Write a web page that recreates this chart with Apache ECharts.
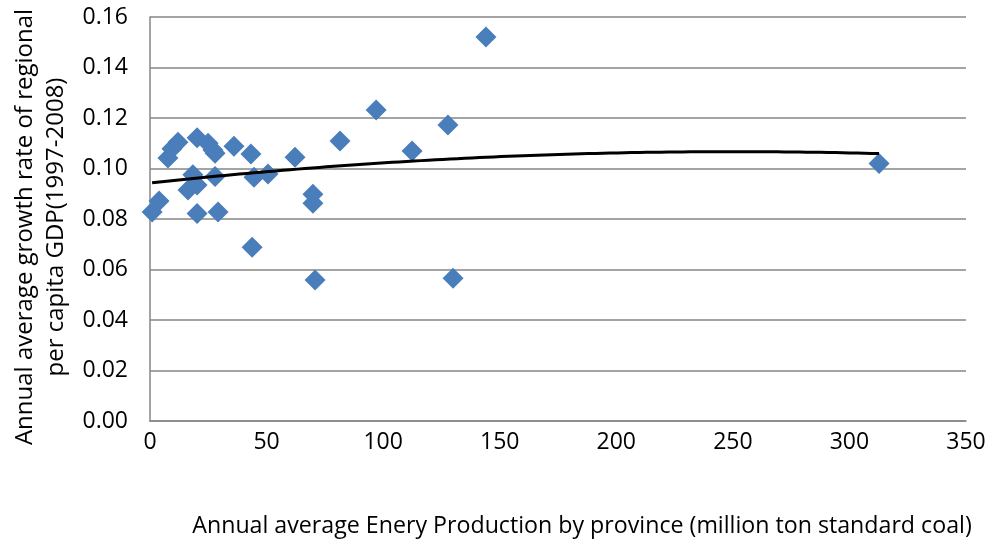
<!DOCTYPE html>
<html>
<head>
<meta charset="utf-8">
<script src="https://cdn.jsdelivr.net/npm/echarts@6/dist/echarts.min.js"></script>
<style>html,body{margin:0;padding:0;background:#fff}#c{width:992px;height:546px}</style>
</head>
<body>
<div id="c"></div>
<script>
// Energy production (million ton standard coal)
var energyX = [0.9, 3.9, 7.7, 9.4, 12.0, 16.3, 18.4, 20.2, 20.2, 20.2, 24.9, 27.0, 27.9, 27.9, 29.2, 36.0, 43.3, 43.8, 44.6, 50.6, 62.2, 69.9, 69.9, 70.8, 81.5, 97.0, 112.4, 127.8, 130.0, 144.1, 312.7];
// Annual average growth rate of per capita GDP
var growthY = [0.0828, 0.0871, 0.1042, 0.1078, 0.1104, 0.0915, 0.0975, 0.1122, 0.0935, 0.0822, 0.1100, 0.1073, 0.1060, 0.0968, 0.0828, 0.1088, 0.1057, 0.0688, 0.0965, 0.0978, 0.1045, 0.0898, 0.0862, 0.0558, 0.1109, 0.1232, 0.1069, 0.1172, 0.0565, 0.1521, 0.1020];
var xTicks = [0, 50, 100, 150, 200, 250, 300, 350];
var yTicks = [0, 0.02, 0.04, 0.06, 0.08, 0.10, 0.12, 0.14, 0.16];

// Polynomial (order 2) least-squares trendline from the data
function quadFit(xs, ys) {
  var n = xs.length, s = [0,0,0,0,0], t = [0,0,0];
  for (var i = 0; i < n; i++) {
    var x = xs[i], y = ys[i], p = 1;
    for (var k = 0; k < 5; k++) { s[k] += p; if (k < 3) t[k] += p * y; p *= x; }
  }
  var M = [[s[0], s[1], s[2], t[0]], [s[1], s[2], s[3], t[1]], [s[2], s[3], s[4], t[2]]];
  for (var c = 0; c < 3; c++) {
    for (var r = c + 1; r < 3; r++) {
      var f = M[r][c] / M[c][c];
      for (var j = c; j < 4; j++) M[r][j] -= f * M[c][j];
    }
  }
  var coef = [0,0,0];
  for (var r2 = 2; r2 >= 0; r2--) {
    var v = M[r2][3];
    for (var j2 = r2 + 1; j2 < 3; j2++) v -= M[r2][j2] * coef[j2];
    coef[r2] = v / M[r2][r2];
  }
  return coef;
}
var coef = quadFit(energyX, growthY);
var xMinData = Math.min.apply(null, energyX), xMaxData = Math.max.apply(null, energyX);
var trend = [];
for (var i = 0; i <= 100; i++) {
  var x = xMinData + (xMaxData - xMinData) * i / 100;
  trend.push([x, coef[0] + coef[1] * x + coef[2] * x * x]);
}
var pts = energyX.map(function (x, i) { return [x, growthY[i]]; });

var font = '"Open Sans", "Noto Sans", sans-serif';
var chart = echarts.init(document.getElementById('c'), null, { renderer: 'canvas' });
chart.setOption({
  animation: false,
  grid: { left: 150, right: 26, top: 17, bottom: 125, containLabel: false, outerBoundsMode: 'none' },
  xAxis: {
    type: 'value', min: 0, max: 350, interval: 50,
    axisLine: { show: true, lineStyle: { color: '#868686', width: 1.5 } },
    axisTick: { show: false },
    splitLine: { show: false },
    axisLabel: { color: '#000', fontSize: 23, fontFamily: font, margin: 10 },
    name: 'Annual average Enery Production by province (million ton standard coal)',
    nameLocation: 'middle', nameGap: 94,
    nameTextStyle: { color: '#000', fontSize: 23.2, fontFamily: font, padding: [0, 0, 0, 48] }
  },
  yAxis: {
    type: 'value', min: 0, max: 0.16, interval: 0.02,
    axisLine: { show: true, lineStyle: { color: '#868686', width: 1.5 } },
    axisTick: { show: false },
    splitLine: { show: true, lineStyle: { color: '#868686', width: 1.5 } },
    axisLabel: { color: '#000', fontSize: 23, fontFamily: font, margin: 22,
      formatter: function (v) { return v.toFixed(2); } },
    name: 'Annual average growth rate of regional\nper capita GDP(1997-2008)',
    nameLocation: 'middle', nameGap: 78,
    nameTextStyle: { color: '#000', fontSize: 24, fontFamily: font, lineHeight: 31, padding: [0, 16, 0, 0] }
  },
  series: [
    {
      type: 'scatter', data: pts, symbol: 'diamond', symbolSize: 21,
      itemStyle: { color: '#4A7EBB', opacity: 1 }
    },
    {
      type: 'line', data: trend, showSymbol: false, smooth: false,
      lineStyle: { color: '#000', width: 3 }, z: 3
    }
  ]
});
</script>
</body>
</html>
